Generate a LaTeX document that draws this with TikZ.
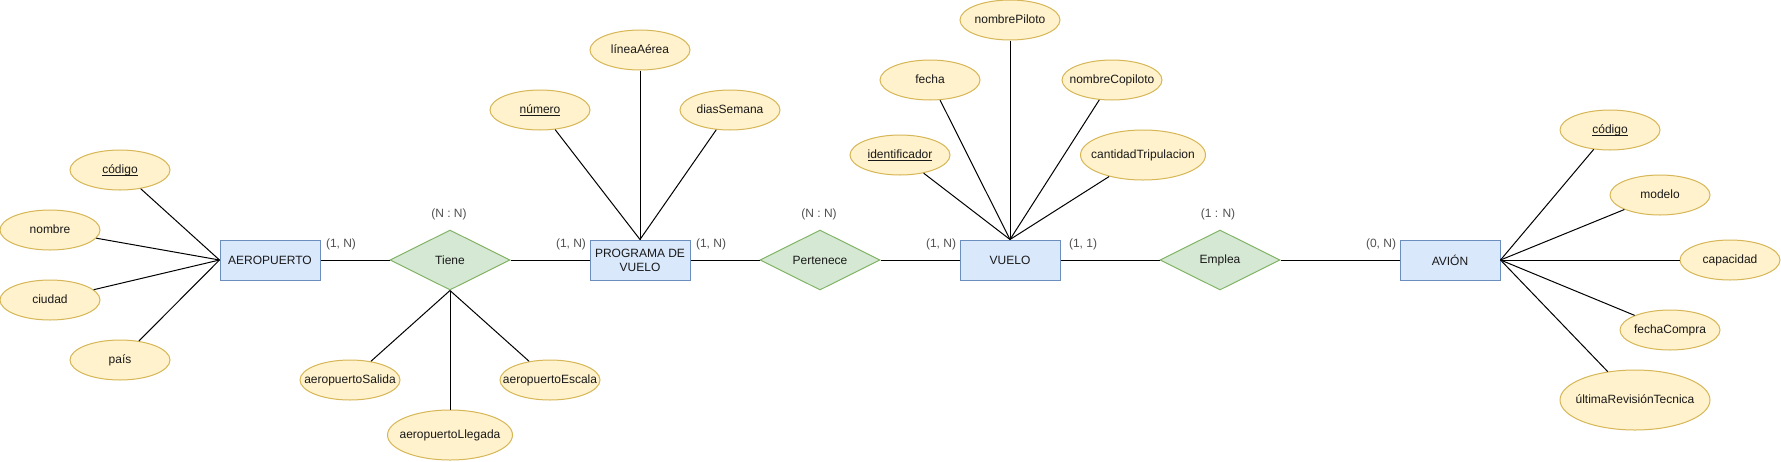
\documentclass[tikz,border=0pt]{standalone}
\usepackage{fontspec}
\setmainfont{Liberation Sans}
\usepackage{xcolor}
\usepackage{tikz}
\usetikzlibrary{shapes.geometric}
\definecolor{entfill}{HTML}{DAE8FC}
\definecolor{entline}{HTML}{6C8EBF}
\definecolor{relfill}{HTML}{D5E8D4}
\definecolor{relline}{HTML}{82B366}
\definecolor{attfill}{HTML}{FFF2CC}
\definecolor{attline}{HTML}{D6B656}
\definecolor{cardgray}{HTML}{505050}
\newcommand{\keyattr}[1]{\underline{\smash{#1}}}

\begin{document}
\begin{tikzpicture}[x=0.75pt, y=-0.75pt, line width=0.75pt,
    font=\fontsize{9pt}{10.5pt}\selectfont,
    entity/.style={draw=entline, fill=entfill, text=black!90, align=center,
      inner sep=0pt, minimum width=75pt, minimum height=30pt},
    relation/.style={diamond, aspect=2, draw=relline, fill=relfill, text=black!90,
      inner sep=0pt, minimum width=90pt, minimum height=45pt},
    attrib/.style={ellipse, draw=attline, fill=attfill, text=black!90,
      text height=6.6pt, text depth=1.9pt,
      inner xsep=-12pt, inner ysep=0pt, minimum width=75pt, minimum height=30pt},
    card/.style={text=cardgray, inner sep=0pt}]
    \useasboundingbox (0,0) rectangle (1781,461);

    % entidades y relaciones
    \node[entity](aero) at (270,260) {AEROPUERTO};
    \node[relation](tiene) at (450,260) {Tiene};
    \node[entity](prog) at (640,260) {PROGRAMA DE\\VUELO};
    \node[relation](pert) at (820,260) {Pertenece};
    \node[entity](vuelo) at (1010,260) {VUELO};
    \node[relation](emplea) at (1220,260) {Emplea};
    \node[entity](avion) at (1450,260) {AVIÓN};

    % atributos
    \node[attrib](cod) at (120,170) {\keyattr{código}};
    \node[attrib](nombre) at (50,230) {nombre};
    \node[attrib](ciudad) at (50,300) {ciudad};
    \node[attrib](pais) at (120,360) {país};

    \node[attrib](salida) at (350,380) {aeropuertoSalida};
    \node[attrib, minimum width=93.75pt, minimum height=37.5pt](llegada) at (450,435) {aeropuertoLlegada};
    \node[attrib](escala) at (550,380) {aeropuertoEscala};

    \node[attrib](numero) at (540,110) {\keyattr{número}};
    \node[attrib](linea) at (640,50) {líneaAérea};
    \node[attrib](dias) at (730,110) {diasSemana};

    \node[attrib](ident) at (900,155) {\keyattr{identificador}};
    \node[attrib](fecha) at (930,80) {fecha};
    \node[attrib](piloto) at (1010,20) {nombrePiloto};
    \node[attrib](copiloto) at (1112,80) {nombreCopiloto};
    \node[attrib, minimum width=93.75pt, minimum height=37.5pt](tripul) at (1143,155) {cantidadTripulacion};

    \node[attrib](cod2) at (1610,130) {\keyattr{código}};
    \node[attrib](modelo) at (1660,195) {modelo};
    \node[attrib](capac) at (1730,260) {capacidad};
    \node[attrib](compra) at (1670,330) {fechaCompra};
    \node[attrib, minimum width=112.5pt, minimum height=45pt](revision) at (1635,400) {últimaRevisiónTecnica};

    % cardinalidades
    \node[card](c1) at (341,244) {(1, N)};
    \node[card](c2) at (449,214) {(N : N)};
    \node[card](c3) at (571,244) {(1, N)};
    \node[card](c4) at (711,244) {(1, N)};
    \node[card](c5) at (819,214) {(N : N)};
    \node[card](c6) at (941,244) {(1, N)};
    \node[card](c7) at (1083,244) {(1, 1)};
    \node[card](c8) at (1218,214) {(1 : N)};
    \node[card](c9) at (1381,244) {(0, N)};

    \draw (aero.east)  edge (tiene.west)
          (tiene.east) edge (prog.west)
          (prog.east)  edge (pert.west)
          (pert.east)  edge (vuelo.west)
          (vuelo.east) edge (emplea.west)
          (emplea.east) edge (avion.west);

    \draw (cod) edge (aero.west)
          (nombre) edge (aero.west)
          (ciudad) edge (aero.west)
          (pais) edge (aero.west)
          (salida) edge (tiene.south)
          (llegada) edge (tiene.south)
          (escala) edge (tiene.south)
          (numero) edge (prog.north)
          (linea) edge (prog.north)
          (dias) edge (prog.north)
          (ident) edge (vuelo.north)
          (fecha) edge (vuelo.north)
          (piloto) edge (vuelo.north)
          (copiloto) edge (vuelo.north)
          (tripul) edge (vuelo.north)
          (cod2) edge (avion.east)
          (modelo) edge (avion.east)
          (capac) edge (avion.east)
          (compra) edge (avion.east)
          (revision) edge (avion.east);
  \end{tikzpicture}
\end{document}
